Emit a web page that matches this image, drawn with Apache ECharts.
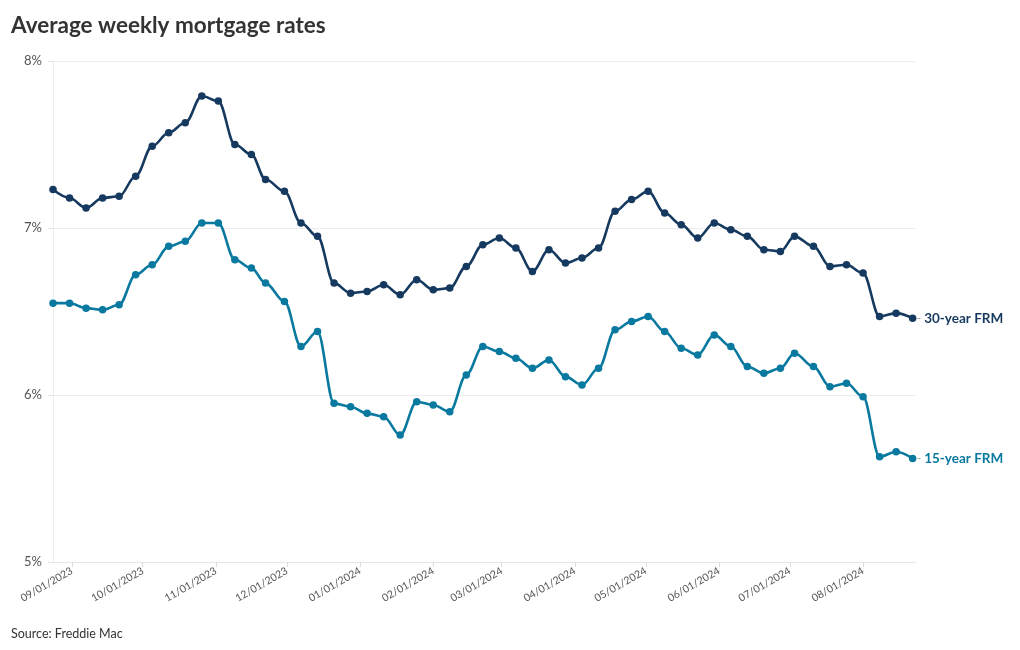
<!DOCTYPE html>
<html>
<head>
<meta charset="utf-8">
<script src="https://cdn.jsdelivr.net/npm/echarts@6/dist/echarts.min.js"></script>
<style>
html,body{margin:0;padding:0;background:#fff;}
#chart{width:1020px;height:650px;}
</style>
</head>
<body>
<div id="chart"></div>
<script>
var dates = ['2023-08-24','2023-08-31','2023-09-07','2023-09-14','2023-09-21','2023-09-28',
'2023-10-05','2023-10-12','2023-10-19','2023-10-26','2023-11-02','2023-11-09','2023-11-16',
'2023-11-22','2023-11-30','2023-12-07','2023-12-14','2023-12-21','2023-12-28','2024-01-04',
'2024-01-11','2024-01-18','2024-01-25','2024-02-01','2024-02-08','2024-02-15','2024-02-22',
'2024-02-29','2024-03-07','2024-03-14','2024-03-21','2024-03-28','2024-04-04','2024-04-11',
'2024-04-18','2024-04-25','2024-05-02','2024-05-09','2024-05-16','2024-05-23','2024-05-30',
'2024-06-06','2024-06-13','2024-06-20','2024-06-27','2024-07-03','2024-07-11','2024-07-18',
'2024-07-25','2024-08-01','2024-08-08','2024-08-15','2024-08-22'];
var rate30 = [7.23,7.18,7.12,7.18,7.19,7.31,7.49,7.57,7.63,7.79,7.76,7.50,7.44,7.29,7.22,
7.03,6.95,6.67,6.61,6.62,6.66,6.60,6.69,6.63,6.64,6.77,6.90,6.94,6.88,6.74,6.87,6.79,6.82,
6.88,7.10,7.17,7.22,7.09,7.02,6.94,7.03,6.99,6.95,6.87,6.86,6.95,6.89,6.77,6.78,6.73,6.47,
6.49,6.46];
var rate15 = [6.55,6.55,6.52,6.51,6.54,6.72,6.78,6.89,6.92,7.03,7.03,6.81,6.76,6.67,6.56,
6.29,6.38,5.95,5.93,5.89,5.87,5.76,5.96,5.94,5.90,6.12,6.29,6.26,6.22,6.16,6.21,6.11,6.06,
6.16,6.39,6.44,6.47,6.38,6.28,6.24,6.36,6.29,6.17,6.13,6.16,6.25,6.17,6.05,6.07,5.99,5.63,
5.66,5.62];
var tickLabels = ['09/01/2023','10/01/2023','11/01/2023','12/01/2023','01/01/2024','02/01/2024',
'03/01/2024','04/01/2024','05/01/2024','06/01/2024','07/01/2024','08/01/2024'];
var yTicks = [5,6,7,8];
var seriesNames = ['30-year FRM','15-year FRM'];

function isoToTs(s){var p=s.split('-');return Date.UTC(+p[0],+p[1]-1,+p[2]);}
function mdyToTs(s){var p=s.split('/');return Date.UTC(+p[2],+p[0]-1,+p[1]);}
function pad(n){return (n<10?'0':'')+n;}
function fmt(v){var d=new Date(v);return pad(d.getUTCMonth()+1)+'/'+pad(d.getUTCDate())+'/'+d.getUTCFullYear();}

var tickTs = tickLabels.map(mdyToTs);
var d30 = dates.map(function(d,i){return [isoToTs(d), rate30[i]];});
var d15 = dates.map(function(d,i){return [isoToTs(d), rate15[i]];});
var colors = ['#163a5f','#09799f'];

var chart = echarts.init(document.getElementById('chart'));
function mk(name, data, color){
  return {
    name:name, type:'line', data:data, smooth:0.35, smoothMonotone:'x',
    symbol:'circle', symbolSize:7.5, showSymbol:true,
    lineStyle:{color:color,width:2.6}, itemStyle:{color:color},
    endLabel:{show:true, distance:4,
      formatter:'{d|-} {n|'+name+'}',
      rich:{d:{color:'#999999',fontSize:12,fontFamily:'Lato'},
            n:{color:color,fontSize:13.5,fontWeight:'bold',fontFamily:'Lato'}}},
    emphasis:{disabled:true}, animation:false
  };
}
chart.setOption({
  animation:false,
  textStyle:{fontFamily:'Lato'},
  title:[{text:'Average weekly mortgage rates', left:6, top:9,
          textStyle:{fontFamily:'Lato',fontSize:22.5,fontWeight:'bold',color:'#333333'}},
         {text:'Source: Freddie Mac', left:6, top:622,
          textStyle:{fontFamily:'Lato',fontSize:12.5,fontWeight:'normal',color:'#333333'}}],
  grid:{left:53, right:105, top:61, bottom:88, containLabel:false},
  xAxis:{type:'value', min:isoToTs('2023-08-24'), max:isoToTs('2024-08-23'),
    axisLine:{show:true, lineStyle:{color:'#e6e6e6'}},
    axisTick:{show:true, customValues:tickTs, length:5, lineStyle:{color:'#dddddd'}},
    axisLabel:{customValues:tickTs, rotate:30, fontSize:10.5, color:'#555555', margin:8,
      fontFamily:'Lato', formatter:function(v){return fmt(v);}},
    splitLine:{show:false}},
  yAxis:{type:'value', min:yTicks[0], max:yTicks[yTicks.length-1], interval:1,
    axisLine:{show:true, lineStyle:{color:'#e9edf2'}},
    axisTick:{show:true, length:5, lineStyle:{color:'#e3e3e3'}},
    axisLabel:{formatter:'{value}%', fontSize:13, color:'#555555', margin:11, fontFamily:'Lato'},
    splitLine:{show:true, lineStyle:{color:'#ececec'}}},
  series:[mk(seriesNames[0], d30, colors[0]), mk(seriesNames[1], d15, colors[1])]
});
</script>
</body>
</html>
